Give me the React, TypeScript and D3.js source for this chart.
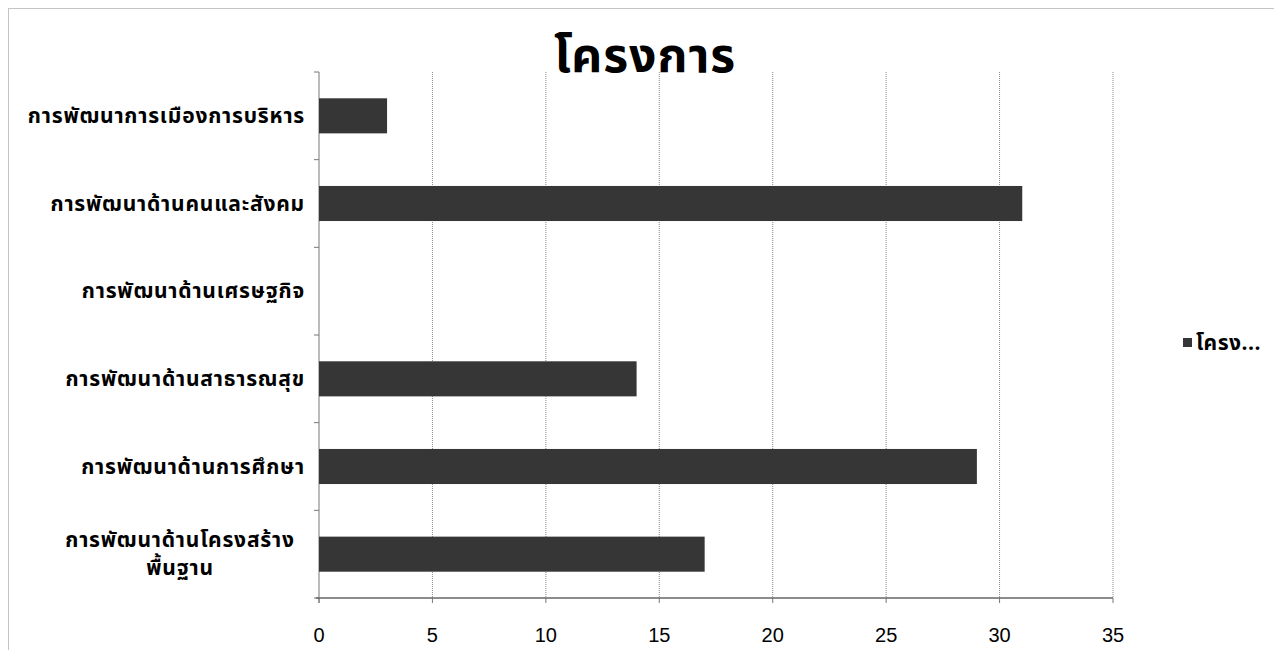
import React from "react";
import * as d3 from "d3";

const categories = [
  "การพัฒนาการเมืองการบริหาร",
  "การพัฒนาด้านคนและสังคม",
  "การพัฒนาด้านเศรษฐกิจ",
  "การพัฒนาด้านสาธารณสุข",
  "การพัฒนาด้านการศึกษา",
  "การพัฒนาด้านโครงสร้างพื้นฐาน",
];
const labelLines: string[][] = [
  ["การพัฒนาการเมืองการบริหาร"],
  ["การพัฒนาด้านคนและสังคม"],
  ["การพัฒนาด้านเศรษฐกิจ"],
  ["การพัฒนาด้านสาธารณสุข"],
  ["การพัฒนาด้านการศึกษา"],
  ["การพัฒนาด้านโครงสร้าง", "พื้นฐาน"],
];
const values = [3, 31, 0, 14, 29, 17];
const xTicks = [0, 5, 10, 15, 20, 25, 30, 35];
const title = "โครงการ";
const legendLabel = "โครง...";

const FONT = "'Noto Sans Thai', Tahoma, 'DejaVu Sans', sans-serif";

export default function App() {
  const W = 1274;
  const H = 642;
  const left = 311;
  const right = 1105;
  const top = 64;
  const bottom = 590;

  const x = d3.scaleLinear().domain([0, 35]).range([left, right]);
  const y = d3
    .scaleBand<string>()
    .domain(categories)
    .range([top, bottom])
    .paddingInner(0.6)
    .paddingOuter(0.3);
  const step = y.step();
  const boundaries = d3.range(categories.length + 1).map((i) => top + i * step);

  return (
    <svg width={W} height={H} style={{ display: "block" }} fontFamily={FONT}>
      <rect x={0.5} y={0.5} width={W - 1} height={H + 10} fill="#fff" stroke="#888" strokeDasharray="1,1" />
      <text x={637} y={64} textAnchor="middle" fontSize={48} fontWeight="bold" fill="#000" letterSpacing={1}>
        {title}
      </text>
      {xTicks.slice(1).map((t) => (
        <line key={t} x1={x(t)} x2={x(t)} y1={top} y2={bottom} stroke="#8a8a8a" strokeWidth={1} strokeDasharray="1,1" />
      ))}
      <line x1={left} x2={left} y1={top} y2={bottom + 5} stroke="#777" strokeWidth={1} />
      {boundaries.map((b, i) => (
        <line key={i} x1={left - 5} x2={left} y1={b} y2={b} stroke="#777" strokeWidth={1} />
      ))}
      {xTicks.map((t) => (
        <line key={"t" + t} x1={x(t)} x2={x(t)} y1={bottom} y2={bottom + 5} stroke="#777" strokeWidth={1} />
      ))}
      {categories.map((c, i) => (
        <rect key={c} x={x(0)} y={y(c)!} width={x(values[i]) - x(0)} height={y.bandwidth()} fill="#363636" />
      ))}
      <line x1={left - 3} x2={right} y1={bottom} y2={bottom} stroke="#666" strokeWidth={1.5} />
      {categories.map((c, i) => {
        const lines = labelLines[i];
        const cy = y(c)! + y.bandwidth() / 2;
        const lh = 28;
        const start = cy - ((lines.length - 1) * lh) / 2 + 7;
        return lines.map((ln, j) => (
          <text
            key={c + j}
            x={lines.length > 1 ? 172 : 297}
            y={start + j * lh}
            textAnchor={lines.length > 1 ? "middle" : "end"}
            fontSize={21}
            fontWeight="bold"
            fill="#000"
            letterSpacing={0.8}
          >
            {ln}
          </text>
        ));
      })}
      {xTicks.map((t) => (
        <text key={"l" + t} x={x(t)} y={634} textAnchor="middle" fontSize={20} fill="#000" fontFamily="'Liberation Sans', Arial, sans-serif">
          {t}
        </text>
      ))}
      <rect x={1175} y={330} width={9} height={9} fill="#363636" />
      <text x={1188} y={342} fontSize={21} fontWeight="bold" fill="#000" letterSpacing={0.5}>
        {legendLabel}
      </text>
    </svg>
  );
}
